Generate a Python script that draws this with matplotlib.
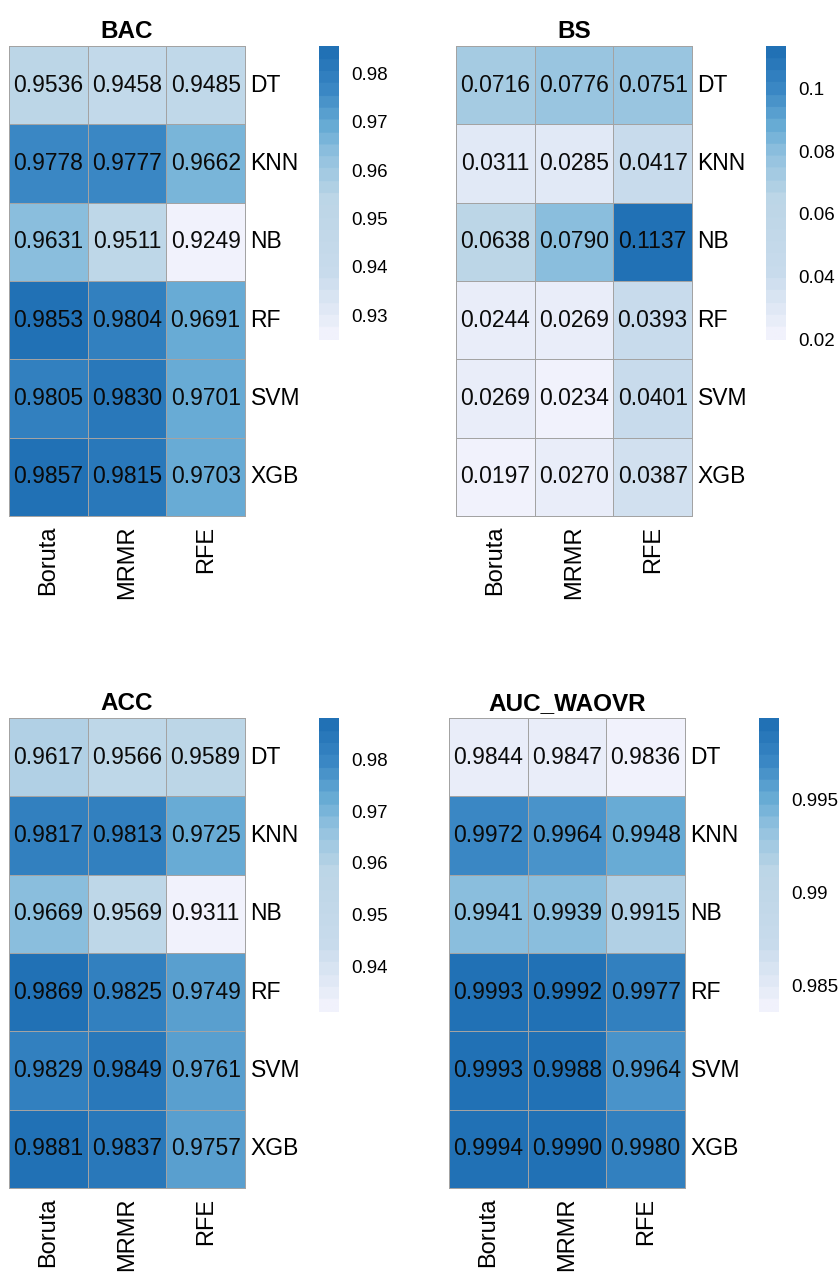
import numpy as np
import matplotlib.pyplot as plt
from matplotlib.colors import LinearSegmentedColormap

plt.rcParams['font.family'] = ['Liberation Sans', 'DejaVu Sans']

methods = ["Boruta", "MRMR", "RFE"]
models = ["DT", "KNN", "NB", "RF", "SVM", "XGB"]

bac = [[0.9536, 0.9458, 0.9485],
       [0.9778, 0.9777, 0.9662],
       [0.9631, 0.9511, 0.9249],
       [0.9853, 0.9804, 0.9691],
       [0.9805, 0.9830, 0.9701],
       [0.9857, 0.9815, 0.9703]]

bs = [[0.0716, 0.0776, 0.0751],
      [0.0311, 0.0285, 0.0417],
      [0.0638, 0.0790, 0.1137],
      [0.0244, 0.0269, 0.0393],
      [0.0269, 0.0234, 0.0401],
      [0.0197, 0.0270, 0.0387]]

acc = [[0.9617, 0.9566, 0.9589],
       [0.9817, 0.9813, 0.9725],
       [0.9669, 0.9569, 0.9311],
       [0.9869, 0.9825, 0.9749],
       [0.9829, 0.9849, 0.9761],
       [0.9881, 0.9837, 0.9757]]

auc = [[0.9844, 0.9847, 0.9836],
       [0.9972, 0.9964, 0.9948],
       [0.9941, 0.9939, 0.9915],
       [0.9993, 0.9992, 0.9977],
       [0.9993, 0.9988, 0.9964],
       [0.9994, 0.9990, 0.9980]]

bac_ticks = [0.93, 0.94, 0.95, 0.96, 0.97, 0.98]
bs_ticks = [0.02, 0.04, 0.06, 0.08, 0.1]
acc_ticks = [0.94, 0.95, 0.96, 0.97, 0.98]
auc_ticks = [0.985, 0.99, 0.995]

# light lavender -> pale blue plateau -> deep blue
cmap = LinearSegmentedColormap.from_list(
    "blues_ramp",
    [(0.0, "#F1F2FC"), (0.22, "#C8DBEC"), (0.48, "#BCD6E7"),
     (0.63, "#93C2DF"), (0.73, "#6BAED6"), (0.87, "#3A87C4"),
     (1.0, "#2171B5")], N=24)

W, H = 838, 1272
fig = plt.figure(figsize=(W / 100, H / 100), dpi=100)


def px_axes(x0, y0, w, h):
    # pixel box (top-left origin) -> figure axes
    return fig.add_axes([x0 / W, 1 - (y0 + h) / H, w / W, h / H])


def heat(data, title, ticks, gx, gy, cbx):
    data = np.array(data)
    vmin, vmax = data.min(), data.max()
    gw, gh = 236, 470
    ax = px_axes(gx, gy, gw, gh)
    mesh = ax.pcolormesh(data, cmap=cmap, vmin=vmin, vmax=vmax,
                         edgecolors="#A3A3A3", linewidth=0.7)
    mesh.set_clip_on(False)
    ax.set_xlim(0, 3)
    ax.set_ylim(6, 0)
    for i in range(6):
        for j in range(3):
            ax.text(j + 0.5, i + 0.5, f"{data[i, j]:.4f}", ha="center",
                    va="center", fontsize=16.5, color="#0a0a0a")
    for s in ax.spines.values():
        s.set_visible(False)
    ax.set_xticks([])
    ax.set_yticks([])
    for i, m in enumerate(models):
        ax.text(3.07, i + 0.5, m, ha="left", va="center", fontsize=16.5)
    for j, m in enumerate(methods):
        ax.text(j + 0.5, 6.12, m, ha="center", va="top", rotation=90,
                fontsize=17)
    ax.set_title(title, fontsize=17.5, fontweight="bold", pad=6)

    cax = px_axes(cbx, gy, 20, 294)
    grad = np.linspace(vmax, vmin, 200).reshape(-1, 1)
    cax.imshow(grad, cmap=cmap, vmin=vmin, vmax=vmax, aspect="auto",
               extent=[0, 1, vmin, vmax])
    cax.set_ylim(vmin, vmax)
    cax.set_xticks([])
    cax.yaxis.tick_right()
    cax.set_yticks(ticks)
    cax.set_yticklabels([f"{t:g}" for t in ticks])
    cax.tick_params(axis="y", length=0, pad=9, labelsize=13.5)
    for s in cax.spines.values():
        s.set_visible(False)


heat(bac, "BAC", bac_ticks, 9, 46, 319)
heat(bs, "BS", bs_ticks, 456, 46, 766)
heat(acc, "ACC", acc_ticks, 9, 718, 319)
heat(auc, "AUC_WAOVR", auc_ticks, 449, 718, 759)

fig.savefig("out.png", dpi=100, facecolor="white")
